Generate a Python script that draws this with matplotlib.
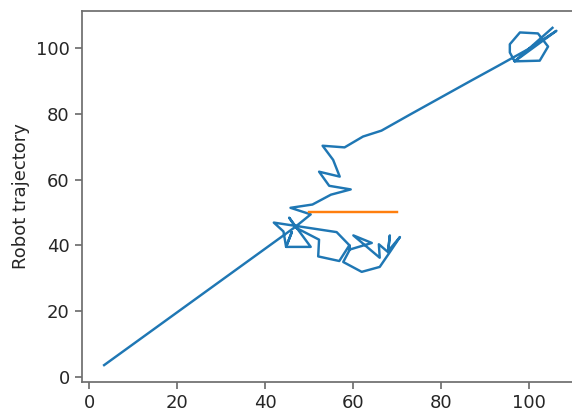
import matplotlib
matplotlib.use("Agg")
import matplotlib.pyplot as plt

# Robot trajectory
traj_x = [3.4, 46.8, 52.3, 52.1, 56.9, 59.2,
          59.3, 57.8, 62.0, 66.1, 68.4, 70.7, 68.0, 68.4, 68.0, 65.9, 66.1, 60.1, 64.3, 59.3,
          59.2, 56.3, 42.0, 44.2, 44.8, 46.1, 44.8, 50.4, 45.5, 46.9, 50.4,
          45.8, 50.8, 55.0, 59.5, 54.6, 52.3, 57.0, 55.5, 53.1, 58.1, 62.3, 66.5,
          73.0, 80.0, 87.0, 93.0, 100.0, 106.3,
          96.8, 95.7, 95.7, 98.0, 102.1, 104.4, 102.5, 96.8, 105.4]
traj_y = [3.5, 45.5, 41.7, 36.6, 35.2, 40.0,
          38.7, 34.9, 31.9, 33.4, 37.9, 42.5, 38.2, 43.0, 37.9, 40.3, 36.2, 43.0, 40.7, 38.7,
          40.0, 44.0, 46.9, 44.2, 39.5, 44.0, 39.5, 39.5, 48.4, 45.6, 49.4,
          51.4, 52.4, 55.4, 57.0, 58.1, 62.4, 60.9, 66.0, 70.3, 69.8, 73.1, 74.9,
          79.8, 85.0, 90.2, 94.6, 99.8, 105.3,
          96.0, 98.7, 101.2, 104.8, 104.5, 100.5, 96.2, 96.0, 106.2]

# Goal line
goal_x = [50, 70]
goal_y = [50, 50]

fig = plt.figure(figsize=(5.72, 4.11), dpi=100)
ax = fig.add_axes([0.1425, 0.0706, 0.8698, 0.9027])

ax.plot(traj_x, traj_y, color="#1f77b4", lw=1.75)
ax.plot(goal_x, goal_y, color="#ff7f0e", lw=1.75)

ax.set_ylabel("Robot trajectory", fontsize=13, color="#262626")
edge = "#6e6e6e"
for s in ax.spines.values():
    s.set_color(edge)
    s.set_linewidth(1.25)
ax.tick_params(axis="both", direction="out", length=5, width=1.25,
               color=edge, labelcolor="#262626", labelsize=13)
ax.set_xticks([0, 20, 40, 60, 80, 100])
ax.set_yticks([0, 20, 40, 60, 80, 100])

fig.savefig("out.png", dpi=100)
